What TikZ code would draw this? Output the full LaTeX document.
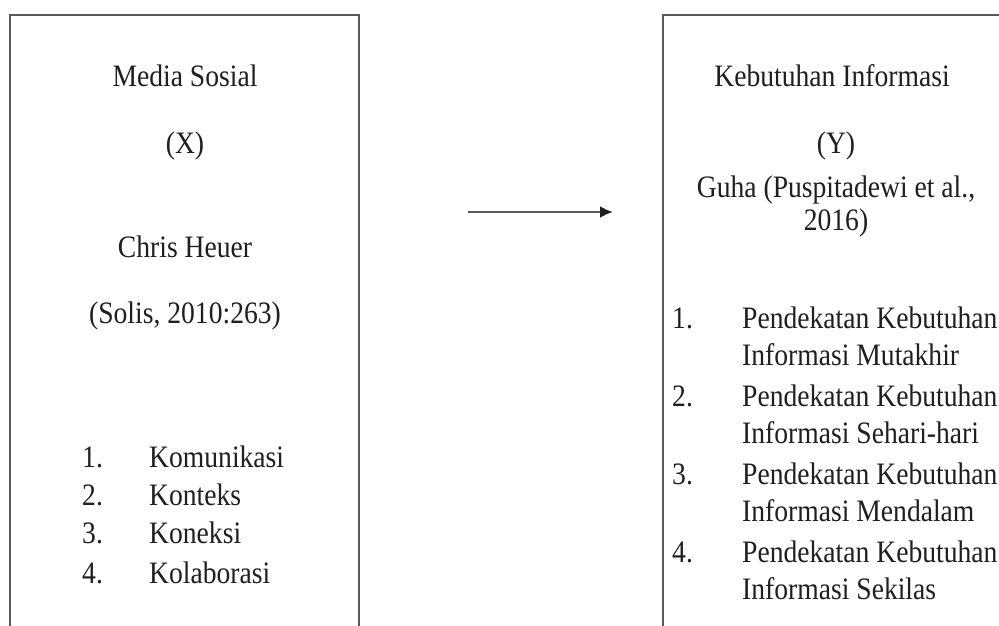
\documentclass[tikz,border=0pt]{standalone}
\usepackage{fontspec}
\setmainfont{Liberation Serif}
\usetikzlibrary{arrows.meta}
\newcommand{\vs}[1]{\scalebox{1}[1.13]{#1}}
\begin{document}
\begin{tikzpicture}[x=1pt,y=-1pt,
  txt/.style={anchor=base,inner sep=0pt,font=\fontsize{27.6}{33}\selectfont,text=black!88},
  txtl/.style={anchor=base west,inner sep=0pt,font=\fontsize{27.6}{33}\selectfont,text=black!88},
  boxline/.style={draw=black!65,line width=2.6pt},
  conn/.style={draw=black!65,line width=2.4pt,-{Latex[length=13pt,width=12pt,black!88]}}]
\useasboundingbox (0,0) rectangle (999,625);
\fill[white] (0,0) rectangle (999,625);
\begin{scope}
\clip (0,0) rectangle (999,625);
\draw[boxline] (10,15) rectangle (359,660);
\draw[boxline] (663,15) rectangle (1040,660);
\end{scope}
% left
\node[txt] (ms) at (185,86) {\vs{Media Sosial}};
\node[txt] (x) at (185,153) {\vs{(X)}};
\node[txt] (ch) at (185,257) {\vs{Chris Heuer}};
\node[txt] (so) at (185,323) {\vs{(Solis, 2010:263)}};
\node[txtl] (n1) at (82,467) {\vs{1.}};
\node[txtl] (l1) at (149,467) {\vs{Komunikasi}};
\node[txtl] (n2) at (82,505) {\vs{2.}};
\node[txtl] (l2) at (149,505) {\vs{Konteks}};
\node[txtl] (n3) at (82,543) {\vs{3.}};
\node[txtl] (l3) at (149,543) {\vs{Koneksi}};
\node[txtl] (n4) at (82,583) {\vs{4.}};
\node[txtl] (l4) at (149,583) {\vs{Kolaborasi}};
% right
\node[txt] (ki) at (832,86) {\vs{Kebutuhan Informasi}};
\node[txt] (y) at (836,153) {\vs{(Y)}};
\node[txt] (gu) at (836,197) {\vs{Guha (Puspitadewi et al.,}};
\node[txt] (yr) at (836,230) {\vs{2016)}};
\node[txtl] (m1) at (672,328) {\vs{1.}};
\node[txtl] (r1a) at (742,328) {\vs{Pendekatan Kebutuhan}};
\node[txtl] (r1b) at (742,365) {\vs{Informasi Mutakhir}};
\node[txtl] (m2) at (672,406) {\vs{2.}};
\node[txtl] (r2a) at (742,406) {\vs{Pendekatan Kebutuhan}};
\node[txtl] (r2b) at (742,443) {\vs{Informasi Sehari-hari}};
\node[txtl] (m3) at (672,484) {\vs{3.}};
\node[txtl] (r3a) at (742,484) {\vs{Pendekatan Kebutuhan}};
\node[txtl] (r3b) at (742,521) {\vs{Informasi Mendalam}};
\node[txtl] (m4) at (672,562) {\vs{4.}};
\node[txtl] (r4a) at (742,562) {\vs{Pendekatan Kebutuhan}};
\node[txtl] (r4b) at (742,599) {\vs{Informasi Sekilas}};
% arrow
\coordinate (as) at (468,212);
\coordinate (ae) at (613,212);
\draw[conn] (as) -- (ae);
\end{tikzpicture}
\end{document}
